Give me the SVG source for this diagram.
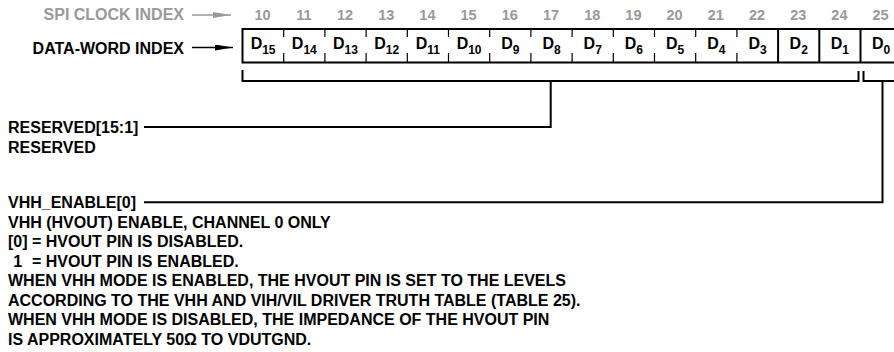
<svg xmlns="http://www.w3.org/2000/svg" width="894" height="352" viewBox="0 0 894 352">
<defs>
<style>
text{font-family:"Liberation Sans",Arial,Helvetica,sans-serif;font-weight:bold;}
.t{font-size:16px;fill:#000;}
.g{font-size:16px;fill:#999;}
.n{font-size:14.5px;fill:#999;text-anchor:middle;}
.d{font-size:16px;fill:#000;text-anchor:middle;}
.s{font-size:12px;}
.box{fill:#fff;stroke:#000;stroke-width:2;}
.thick{stroke:#000;stroke-width:2;fill:none;}
.tick{stroke:#000;stroke-width:1.2;fill:none;}
.ln{stroke:#000;stroke-width:2;fill:none;}
</style>
<marker id="ab" viewBox="0 0 10 10" refX="10" refY="5" markerWidth="18" markerHeight="6" markerUnits="userSpaceOnUse" orient="auto" preserveAspectRatio="none"><path d="M0,0 L10,5 L0,10 z" fill="#000"/></marker>
<marker id="ag" viewBox="0 0 10 10" refX="10" refY="5" markerWidth="18" markerHeight="6" markerUnits="userSpaceOnUse" orient="auto" preserveAspectRatio="none"><path d="M0,0 L10,5 L0,10 z" fill="#999"/></marker>
</defs>
<g id="spi-clock-index">
<text class="g" x="184" y="20" text-anchor="end">SPI CLOCK INDEX</text>
<line x1="192" y1="15" x2="231" y2="15" stroke="#999" stroke-width="1.5" marker-end="url(#ag)"/>
<text class="n" x="262.6" y="20">10</text>
<text class="n" x="303.8" y="20">11</text>
<text class="n" x="345" y="20">12</text>
<text class="n" x="386.2" y="20">13</text>
<text class="n" x="427.4" y="20">14</text>
<text class="n" x="468.6" y="20">15</text>
<text class="n" x="509.8" y="20">16</text>
<text class="n" x="551" y="20">17</text>
<text class="n" x="592.2" y="20">18</text>
<text class="n" x="633.4" y="20">19</text>
<text class="n" x="674.6" y="20">20</text>
<text class="n" x="715.8" y="20">21</text>
<text class="n" x="757" y="20">22</text>
<text class="n" x="798.2" y="20">23</text>
<text class="n" x="839.4" y="20">24</text>
<text class="n" x="880.6" y="20">25</text>
</g>
<g id="data-word-index">
<text class="t" x="184" y="53.5" text-anchor="end">DATA-WORD INDEX</text>
<line x1="192" y1="47.5" x2="233" y2="47.5" stroke="#000" stroke-width="1.5" marker-end="url(#ab)"/>
</g>
<g id="register">
<rect class="box" x="242.5" y="29" width="670" height="33.5"/>
<path class="tick" d="M283.7,29V37M283.7,53V62.5M324.9,29V37M324.9,53V62.5M366.1,29V37M366.1,53V62.5M407.3,29V37M407.3,53V62.5M448.5,29V37M448.5,53V62.5M489.7,29V37M489.7,53V62.5M530.9,29V37M530.9,53V62.5M572.1,29V37M572.1,53V62.5M613.3,29V37M613.3,53V62.5M654.5,29V37M654.5,53V62.5M695.7,29V37M695.7,53V62.5M736.9,29V37M736.9,53V62.5"/>
<path class="thick" d="M778.1,29V62.5M819.3,29V62.5M860.5,29V62.5"/>
<text class="d" x="263.1" y="49">D<tspan class="s" dy="4.5">15</tspan></text>
<text class="d" x="304.3" y="49">D<tspan class="s" dy="4.5">14</tspan></text>
<text class="d" x="345.5" y="49">D<tspan class="s" dy="4.5">13</tspan></text>
<text class="d" x="386.7" y="49">D<tspan class="s" dy="4.5">12</tspan></text>
<text class="d" x="427.9" y="49">D<tspan class="s" dy="4.5">11</tspan></text>
<text class="d" x="469.1" y="49">D<tspan class="s" dy="4.5">10</tspan></text>
<text class="d" x="510.3" y="49">D<tspan class="s" dy="4.5">9</tspan></text>
<text class="d" x="551.5" y="49">D<tspan class="s" dy="4.5">8</tspan></text>
<text class="d" x="592.7" y="49">D<tspan class="s" dy="4.5">7</tspan></text>
<text class="d" x="633.9" y="49">D<tspan class="s" dy="4.5">6</tspan></text>
<text class="d" x="675.1" y="49">D<tspan class="s" dy="4.5">5</tspan></text>
<text class="d" x="716.3" y="49">D<tspan class="s" dy="4.5">4</tspan></text>
<text class="d" x="757.5" y="49">D<tspan class="s" dy="4.5">3</tspan></text>
<text class="d" x="798.7" y="49">D<tspan class="s" dy="4.5">2</tspan></text>
<text class="d" x="839.9" y="49">D<tspan class="s" dy="4.5">1</tspan></text>
<text class="d" x="881.1" y="49">D<tspan class="s" dy="4.5">0</tspan></text>
</g>
<g id="reserved">
<text class="t" x="8" y="132.5">RESERVED[15:1]</text>
<text class="t" x="8" y="152.5">RESERVED</text>
</g>
<g id="vhh-enable">
<text class="t" x="8" y="207.5">VHH_ENABLE[0]</text>
<text class="t" x="8" y="227.5">VHH (HVOUT) ENABLE, CHANNEL 0 ONLY</text>
<text class="t" x="8" y="247">[0] = HVOUT PIN IS DISABLED.</text>
<text class="t" x="13.3" y="266.5">1<tspan x="32">= HVOUT PIN IS ENABLED.</tspan></text>
<text class="t" x="8" y="286">WHEN VHH MODE IS ENABLED, THE HVOUT PIN IS SET TO THE LEVELS</text>
<text class="t" x="8" y="305.5">ACCORDING TO THE VHH AND VIH/VIL DRIVER TRUTH TABLE (TABLE 25).</text>
<text class="t" x="8" y="325">WHEN VHH MODE IS DISABLED, THE IMPEDANCE OF THE HVOUT PIN</text>
<text class="t" x="8" y="344.5">IS APPROXIMATELY 50Ω TO VDUTGND.</text>
</g>
<g id="connectors">
<path class="ln" d="M242.5,70V81H858.5V71"/>
<path class="ln" d="M863.5,71V81H894"/>
<path class="ln" d="M550.7,81V127H144"/>
<path class="ln" d="M882.5,81V202.3H144"/>
</g>
</svg>
